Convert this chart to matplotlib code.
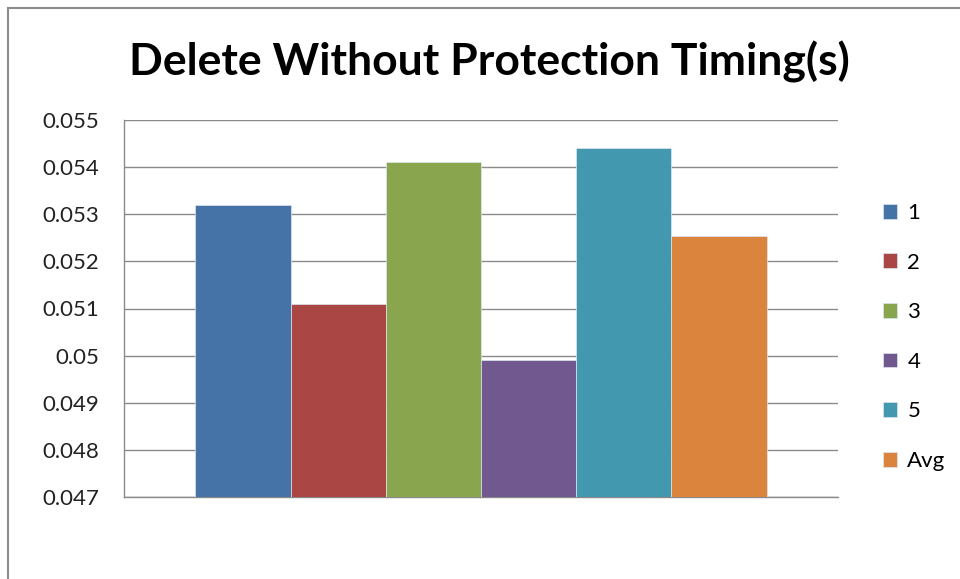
import matplotlib
matplotlib.use("Agg")
import matplotlib.pyplot as plt
from matplotlib.patches import Rectangle, Patch

title = "Delete Without Protection Timing(s)"
series = ["1", "2", "3", "4", "5", "Avg"]
values = [0.0532, 0.0511, 0.0541, 0.0499, 0.0544, 0.05254]
colors = ["#4572A7", "#AA4643", "#89A54E", "#71588F", "#4198AF", "#DB843D"]
yticks = [0.047, 0.048, 0.049, 0.05, 0.051, 0.052, 0.053, 0.054, 0.055]
ytick_labels = ["0.047", "0.048", "0.049", "0.05", "0.051", "0.052", "0.053", "0.054", "0.055"]

plt.rcParams["font.family"] = ["Lato", "DejaVu Sans"]

fig = plt.figure(figsize=(9.6, 5.79), dpi=100)
fig.patch.set_facecolor("white")

# chart area frame
fig.patches.append(Rectangle((8 / 960, -0.05), 1.1, 1 - 8 / 579 + 0.05,
                             transform=fig.transFigure, fill=False,
                             edgecolor="#8c8c8c", linewidth=1.5))

ax = fig.add_axes([124 / 960, 1 - 497 / 579, (838 - 124) / 960, (497 - 120) / 579])
ax.set_facecolor("white")

for i, (v, c) in enumerate(zip(values, colors)):
    ax.bar(i, v - yticks[0], bottom=yticks[0], width=1.0, color=c,
           edgecolor="#dde6f0", linewidth=0.5, zorder=3)

ax.set_xlim(-1.25, 6.25)
ax.set_ylim(yticks[0], yticks[-1])
ax.set_yticks(yticks)
ax.set_yticklabels(ytick_labels, fontsize=16, color="#222222")
ax.set_xticks([])
ax.tick_params(axis="y", length=0, pad=18)
ax.grid(axis="y", color="#8a8a8a", linewidth=1.0, zorder=0)
for s in ["top", "right"]:
    ax.spines[s].set_visible(False)
for s in ["left", "bottom"]:
    ax.spines[s].set_color("#8a8a8a")
    ax.spines[s].set_linewidth(1.0)

fig.text(489 / 960, 1 - 62 / 579, title, ha="center", va="center",
         fontsize=32, fontweight="bold", color="black")

handles = [Patch(facecolor=c, edgecolor="#dde6f0", linewidth=0.5) for c in colors]
fig.legend(handles, series, loc="center left",
           bbox_to_anchor=(874 / 960, 1 - 337 / 579), frameon=False,
           fontsize=16, handlelength=0.65, handleheight=0.65,
           handletextpad=0.45, labelspacing=1.33, borderaxespad=0)

fig.savefig("out.png", dpi=100, facecolor="white")
